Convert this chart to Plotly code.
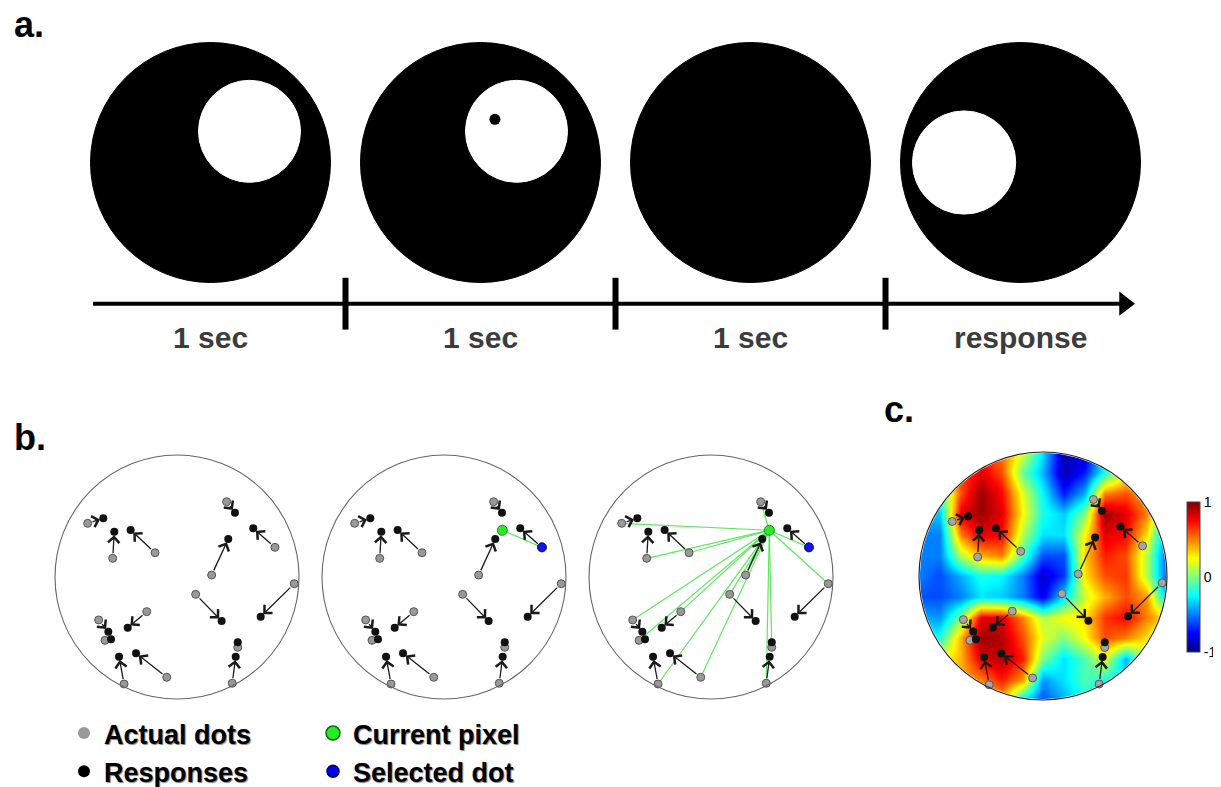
import numpy as np
import plotly.graph_objects as go

# The page body adds an 8 px margin; the figure is sized/offset so that the
# visible window (1221 x 787) matches the reference layout.
VIEW_W, VIEW_H = 1221, 787
OFF = 8
W, H = VIEW_W - OFF, VIEW_H - OFF


def fx(p):  # screen x pixel -> paper fraction
    return (p - OFF) / W


def fy(p):  # screen y pixel -> paper fraction
    return 1 - (p - OFF) / H


# ---------------- panel a data ----------------
stage_labels = ["1 sec", "1 sec", "1 sec", "response"]
stage_index = [0, 1, 2, 3]
# white aperture inside each black disc (offset and radius in black-disc radii)
aperture_dx = [0.325, 0.30, None, -0.47]
aperture_dy = [0.26, 0.26, None, 0.0]
aperture_r = [0.425, 0.425, None, 0.43]
# memory probe dot shown during stage 2
probe_stage = [1]
probe_dx = [0.12]
probe_dy = [0.36]
stage_bounds = [0.5, 1.5, 2.5]

# ---------------- panel b / c data (normalised to display radius) ----------------
actual_x = [-0.732, -0.527, -0.180, 0.407, 0.803, 0.284, 0.153, 0.961, -0.248, -0.642, -0.590, -0.434, -0.084, 0.498, 0.453]
actual_y = [0.440, 0.153, 0.199, 0.617, 0.243, 0.016, -0.142, -0.055, -0.284, -0.352, -0.519, -0.877, -0.822, -0.576, -0.871]
resp_x = [-0.604, -0.514, -0.380, 0.475, 0.625, 0.420, 0.366, 0.686, -0.404, -0.563, -0.541, -0.475, -0.336, 0.498, 0.481]
resp_y = [0.481, 0.371, 0.385, 0.527, 0.399, 0.311, -0.361, -0.325, -0.416, -0.448, -0.511, -0.653, -0.625, -0.535, -0.653]
current_pixel_x = [0.478]
current_pixel_y = [0.383]
selected_dot = 4

# ---------------- panel c heat values (rows top -> bottom, cols left -> right) ----------------
heat_rows = [
    [-0.3, -0.1, 0.5, 0.7, 0.5, 0.2, -0.3, -0.9, -0.85, -0.3, 0.1, 0.1, 0.0],
    [0.0, 0.3, 0.6, 0.8, 0.6, -0.05, -0.4, -0.9, -0.7, -0.2, 0.2, 0.2, 0.0],
    [-0.3, -0.2, 0.6, 0.95, 0.75, 0.2, -0.25, -0.7, -0.4, 0.5, 0.6, 0.4, 0.0],
    [-0.4, -0.35, 0.8, 0.95, 0.8, 0.25, -0.2, -0.35, 0.0, 0.95, 0.8, 0.5, -0.2],
    [-0.5, -0.5, 0.5, 0.8, 0.75, 0.1, -0.3, -0.3, 0.25, 0.8, 0.75, 0.3, -0.5],
    [-0.5, -0.5, 0.1, 0.4, 0.5, -0.1, -0.6, -0.6, 0.35, 0.7, 0.6, 0.1, -0.6],
    [-0.5, -0.6, -0.4, -0.2, -0.25, -0.5, -0.85, -0.65, 0.3, 0.6, 0.65, 0.1, -0.6],
    [-0.6, -0.6, -0.5, -0.3, -0.35, -0.5, -0.8, -0.3, 0.15, 0.4, 0.6, 0.45, -0.4],
    [-0.4, -0.45, 0.0, 0.8, 0.8, 0.5, 0.1, 0.25, 0.3, 0.65, 0.75, 0.5, 0.3],
    [-0.3, -0.2, 0.4, 0.95, 0.9, 0.6, 0.2, 0.0, 0.25, 0.6, 0.5, 0.3, 0.0],
    [0.0, 0.2, 0.4, 0.8, 0.9, 0.7, 0.0, -0.3, -0.1, 0.2, -0.4, 0.2, 0.0],
    [0.0, 0.2, 0.4, 0.5, 0.7, 0.45, -0.45, -0.3, -0.1, -0.2, -0.3, 0.0, 0.0],
    [0.0, 0.2, 0.3, 0.3, 0.4, -0.3, -0.6, -0.4, -0.2, -0.3, -0.3, 0.0, 0.0],
]
heat_ticks = [-1, 0, 1]

# ---------------- layout geometry (screen pixels) ----------------
STAGE_PX = 270.0           # pixels per stage in panel a
A_X0, A_Y0 = 210.5, 162.5  # screen centre of first disc
DISC_R = 120.0 / STAGE_PX
TL_Y = (A_Y0 - 303.7) / STAGE_PX
LABEL_Y = (A_Y0 - 337.0) / STAGE_PX
TL_START = (93 - A_X0) / STAGE_PX
TL_TIP = (1135 - A_X0) / STAGE_PX
HEAD_SIZE = 21
A_BOTTOM = 380  # screen y where panel a area ends

panels = [  # (cx, cy, r) in screen pixels
    (177, 577, 122),
    (444, 577, 122),
    (711, 577, 122),
    (1043, 576, 124),
]
PAD = 1.15

jet = [[0, "rgb(0,0,128)"], [0.125, "rgb(0,0,255)"], [0.375, "rgb(0,255,255)"],
       [0.625, "rgb(255,255,0)"], [0.875, "rgb(255,0,0)"], [1, "rgb(128,0,0)"]]

fig = go.Figure()
shapes = []
annotations = []

# ================= panel a =================
for i, dx, dy, ar in zip(stage_index, aperture_dx, aperture_dy, aperture_r):
    shapes.append(dict(type="circle", xref="x", yref="y", layer="below",
                       x0=i - DISC_R, x1=i + DISC_R, y0=-DISC_R, y1=DISC_R,
                       fillcolor="black", line=dict(color="black", width=1)))
    if dx is not None:
        cx, cy, rr = i + dx * DISC_R, dy * DISC_R, ar * DISC_R
        shapes.append(dict(type="circle", xref="x", yref="y", layer="below",
                           x0=cx - rr, x1=cx + rr, y0=cy - rr, y1=cy + rr,
                           fillcolor="white", line=dict(color="white", width=1)))

fig.add_trace(go.Scatter(
    x=[s + d * DISC_R for s, d in zip(probe_stage, probe_dx)],
    y=[d * DISC_R for d in probe_dy], mode="markers",
    marker=dict(color="black", size=11), showlegend=False, hoverinfo="skip",
    xaxis="x", yaxis="y"))

head_x = TL_TIP - (HEAD_SIZE / 2) / STAGE_PX
fig.add_trace(go.Scatter(x=[TL_START, head_x], y=[TL_Y, TL_Y], mode="lines",
                         line=dict(color="black", width=4), showlegend=False,
                         hoverinfo="skip", xaxis="x", yaxis="y"))
fig.add_trace(go.Scatter(x=[head_x], y=[TL_Y], mode="markers",
                         marker=dict(symbol="triangle-right", size=HEAD_SIZE, color="black"),
                         showlegend=False, hoverinfo="skip", cliponaxis=False,
                         xaxis="x", yaxis="y"))
fig.add_trace(go.Scatter(x=stage_bounds, y=[TL_Y] * len(stage_bounds), mode="markers",
                         marker=dict(symbol="line-ns", size=37,
                                     line=dict(color="black", width=6)),
                         showlegend=False, hoverinfo="skip", xaxis="x", yaxis="y"))
for i, lab in zip(stage_index, stage_labels):
    annotations.append(dict(x=i, y=LABEL_Y, xref="x", yref="y", text=lab, showarrow=False,
                            font=dict(family="Liberation Sans", size=30, color="#3c3c3c",
                                      weight=700),
                            xanchor="center", yanchor="middle"))

# ================= panels b and c =================
def axes_for(n, cx, cy, r):
    half = PAD * r
    return (dict(domain=[fx(cx - half), fx(cx + half)], range=[-PAD, PAD],
                 visible=False, fixedrange=True, anchor=f"y{n}"),
            dict(domain=[fy(cy + half), fy(cy - half)], range=[-PAD, PAD],
                 visible=False, fixedrange=True, anchor=f"x{n}"))


axis_layout = {}
for k, (cx, cy, r) in enumerate(panels):
    n = k + 2
    xa, ya = axes_for(n, cx, cy, r)
    axis_layout[f"xaxis{n}"] = xa
    axis_layout[f"yaxis{n}"] = ya

# heat map (panel c)
grid = np.linspace(-1, 1, len(heat_rows[0]))
fig.add_trace(go.Heatmap(
    x=grid, y=grid, z=heat_rows[::-1], zmin=-1, zmax=1, zsmooth="best",
    colorscale=jet, xaxis="x5", yaxis="y5", hoverinfo="skip",
    colorbar=dict(x=fx(1187), xanchor="left", thickness=13, thicknessmode="pixels",
                  len=150 / H, lenmode="fraction", y=fy(577), yanchor="middle",
                  tickvals=heat_ticks, ticktext=[str(t) for t in heat_ticks],
                  ticks="", ticklen=0,
                  tickfont=dict(family="Liberation Sans", size=14, color="black"),
                  outlinewidth=1, outlinecolor="#444", xpad=0, ypad=0)))

# white mask outside the display circle (keyhole polygon)
theta = np.linspace(0, 2 * np.pi, 241)
mx = list(np.cos(theta)) + [PAD + 0.1, PAD + 0.1, -PAD - 0.1, -PAD - 0.1, PAD + 0.1, PAD + 0.1, 1.0]
my = list(np.sin(theta)) + [0.0, -PAD - 0.1, -PAD - 0.1, PAD + 0.1, PAD + 0.1, 0.0, 0.0]
fig.add_trace(go.Scatter(x=mx, y=my, mode="lines", fill="toself", fillcolor="white",
                         line=dict(color="white", width=2), showlegend=False,
                         hoverinfo="skip", xaxis="x5", yaxis="y5"))

n_dots = len(actual_x)
for k in range(4):
    n = k + 2
    xa, ya = f"x{n}", f"y{n}"
    is_c = (k == 3)
    shapes.append(dict(type="circle", xref=xa, yref=ya, x0=-1, x1=1, y0=-1, y1=1,
                       layer="above",
                       line=dict(color="#222" if is_c else "#666", width=1.2 if is_c else 1.1)))
    # green lines
    if k in (1, 2):
        targets = [selected_dot] if k == 1 else list(range(n_dots))
        gx, gy = [], []
        for t in targets:
            gx += [current_pixel_x[0], actual_x[t], None]
            gy += [current_pixel_y[0], actual_y[t], None]
        fig.add_trace(go.Scatter(x=gx, y=gy, mode="lines",
                                 line=dict(color="rgba(70,225,70,0.85)", width=1.2),
                                 showlegend=False, hoverinfo="skip", xaxis=xa, yaxis=ya))
    # arrows actual -> response
    for i in range(n_dots):
        annotations.append(dict(x=resp_x[i], y=resp_y[i], ax=actual_x[i], ay=actual_y[i],
                                xref=xa, yref=ya, axref=xa, ayref=ya, text="",
                                showarrow=True, arrowhead=4, arrowsize=1.7, arrowwidth=1.3,
                                arrowcolor="#1a1a1a", standoff=3.5, startstandoff=3.5))
    gray_idx = [i for i in range(n_dots) if not (k in (1, 2) and i == selected_dot)]
    fig.add_trace(go.Scatter(x=[actual_x[i] for i in gray_idx], y=[actual_y[i] for i in gray_idx],
                             mode="markers", cliponaxis=False,
                             marker=dict(color="#a5a5a5" if is_c else "#999999", size=8,
                                         line=dict(color="#555", width=1)),
                             showlegend=False, hoverinfo="skip", xaxis=xa, yaxis=ya))
    fig.add_trace(go.Scatter(x=resp_x, y=resp_y, mode="markers", cliponaxis=False,
                             marker=dict(color="#111", size=8),
                             showlegend=False, hoverinfo="skip", xaxis=xa, yaxis=ya))
    if k in (1, 2):
        fig.add_trace(go.Scatter(x=[actual_x[selected_dot]], y=[actual_y[selected_dot]],
                                 mode="markers", cliponaxis=False,
                                 marker=dict(color="#1414e6", size=9,
                                             line=dict(color="#000070", width=1)),
                                 showlegend=False, hoverinfo="skip", xaxis=xa, yaxis=ya))
        fig.add_trace(go.Scatter(x=current_pixel_x, y=current_pixel_y,
                                 mode="markers", cliponaxis=False,
                                 marker=dict(color="#2ee82e", size=10,
                                             line=dict(color="#109010", width=1)),
                                 showlegend=False, hoverinfo="skip", xaxis=xa, yaxis=ya))

# ================= legends =================
legend_items = [
    ("Actual dots", "#999999", None, 12, "legend"),
    ("Responses", "#000000", None, 12, "legend"),
    ("Current pixel", "#22ee22", "#0a6a0a", 14, "legend2"),
    ("Selected dot", "#0000ee", "#000060", 12, "legend2"),
]
for name, col, lcol, sz, lg in legend_items:
    fig.add_trace(go.Scatter(x=[None], y=[None], mode="markers", name=name,
                             marker=dict(color=col, size=sz,
                                         line=dict(color=lcol or col, width=1.5 if lcol else 0)),
                             legend=lg, xaxis="x", yaxis="y"))

legend_font = dict(family="Liberation Sans", size=27, color="black", weight=700,
                   shadow="1px 1px 1px rgba(0,0,0,0.5)")

# ================= panel labels =================
for txt, px, py in [("a.", 12, 25), ("b.", 12, 438), ("c.", 882, 409)]:
    annotations.append(dict(x=fx(px), y=fy(py), xref="paper", yref="paper", text=txt,
                            showarrow=False, xanchor="left", yanchor="middle",
                            font=dict(family="Liberation Sans", size=36, color="black",
                                      weight=700)))

fig.update_layout(
    width=W, height=H, margin=dict(l=0, r=0, t=0, b=0, autoexpand=False),
    paper_bgcolor="white", plot_bgcolor="rgba(0,0,0,0)",
    xaxis=dict(domain=[0, 1], range=[(OFF - A_X0) / STAGE_PX, (VIEW_W - A_X0) / STAGE_PX],
               visible=False, fixedrange=True, anchor="y"),
    yaxis=dict(domain=[fy(A_BOTTOM), 1],
               range=[(A_Y0 - A_BOTTOM) / STAGE_PX, (A_Y0 - OFF) / STAGE_PX],
               visible=False, fixedrange=True, anchor="x"),
    shapes=shapes, annotations=annotations,
    legend=dict(x=fx(64), y=fy(709), xanchor="left", yanchor="top",
                bgcolor="rgba(0,0,0,0)", font=legend_font, tracegroupgap=0,
                itemsizing="trace", traceorder="normal"),
    legend2=dict(x=fx(313), y=fy(709), xanchor="left", yanchor="top",
                 bgcolor="rgba(0,0,0,0)", font=legend_font, tracegroupgap=0,
                 itemsizing="trace", traceorder="normal"),
    showlegend=True,
    **axis_layout,
)

fig.write_html("out.html")
